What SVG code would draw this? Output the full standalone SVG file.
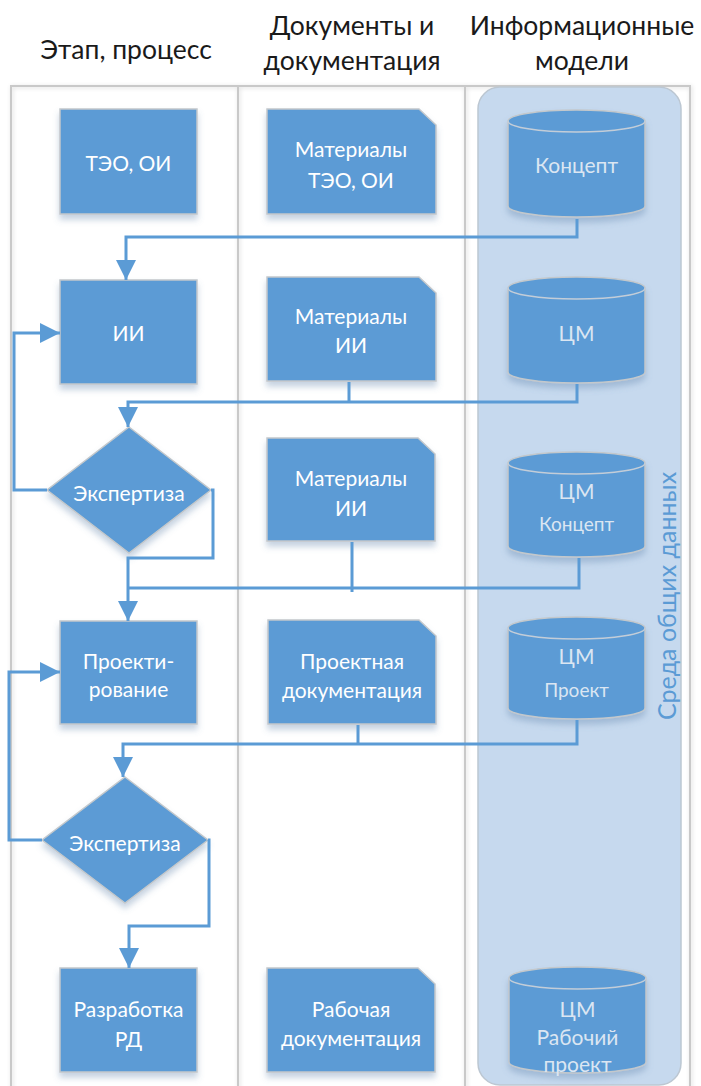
<svg xmlns="http://www.w3.org/2000/svg" width="701" height="1086" viewBox="0 0 701 1086">
  <defs>
    <filter id="shadow" x="-20%" y="-20%" width="140%" height="150%">
      <feGaussianBlur in="SourceAlpha" stdDeviation="3"/>
      <feOffset dx="0" dy="5" result="b"/>
      <feFlood flood-color="#5b7fa8" flood-opacity="0.35"/>
      <feComposite in2="b" operator="in"/>
      <feMerge><feMergeNode/><feMergeNode in="SourceGraphic"/></feMerge>
    </filter>
    <filter id="lineShadow" x="-5%" y="-5%" width="110%" height="110%">
      <feGaussianBlur in="SourceAlpha" stdDeviation="2"/>
      <feOffset dx="1" dy="1" result="b"/>
      <feFlood flood-color="#000" flood-opacity="0.15"/>
      <feComposite in2="b" operator="in"/>
      <feMerge><feMergeNode/><feMergeNode in="SourceGraphic"/></feMerge>
    </filter>
    <marker id="arrow" markerUnits="userSpaceOnUse" markerWidth="22" markerHeight="22" viewBox="0 0 22 22" refX="20" refY="11" orient="auto">
      <path d="M0,1 L20,11 L0,21 Z" fill="#5b9bd5"/>
    </marker>
    <style>
      .frame { fill: none; stroke: #c9c9c9; stroke-width: 2; }
      .node { fill: #5b9bd5; stroke: #c3c8cc; stroke-width: 1.5; filter: url(#shadow); }
      .rim { fill: none; stroke: #c3cdd8; stroke-width: 1.5; }
      .lbl { font-family: Lato, "Liberation Sans", sans-serif; font-size: 21px; fill: #ffffff; text-anchor: middle; dominant-baseline: central; }
      .cyl { fill: #dbe6f2; }
      .small { font-size: 19px; }
      .head { font-family: Lato, "Liberation Sans", sans-serif; font-size: 26.5px; fill: #1a1a1a; text-anchor: middle; }
      .conn { fill: none; stroke: #5b9bd5; stroke-width: 3; stroke-linejoin: miter; }
    </style>
  </defs>

  <rect width="701" height="1086" fill="#ffffff"/>

  <!-- column headings -->
  <g id="headings">
    <text class="head" x="126" y="59">Этап, процесс</text>
    <text class="head" x="352" y="35">Документы и</text>
    <text class="head" x="352" y="70">документация</text>
    <text class="head" x="582" y="35">Информационные</text>
    <text class="head" x="582" y="70">модели</text>
  </g>

  <!-- swimlane frame -->
  <g id="lanes" filter="url(#lineShadow)">
    <path class="frame" d="M11,1090 V86 H690 V1090"/>
    <line class="frame" x1="238" y1="86" x2="238" y2="1090"/>
    <line class="frame" x1="465" y1="86" x2="465" y2="1090"/>
  </g>

  <!-- common data environment -->
  <g id="cde">
    <rect x="478" y="87" width="203" height="998" rx="22" ry="22" fill="#c6d9ee" stroke="#bcc7d2" stroke-width="1.5"/>
    <text x="0" y="0" transform="translate(676,596) rotate(-90)" font-family="Lato, 'Liberation Sans', sans-serif" font-size="25" fill="#5b9bd5" text-anchor="middle">Среда общих данных</text>
  </g>

  <!-- process column -->
  <g id="teo">
    <rect class="node" x="60" y="109" width="137" height="105"/>
    <text class="lbl" x="128.5" y="162">ТЭО, ОИ</text>
  </g>
  <g id="ii">
    <rect class="node" x="60" y="280" width="137" height="104"/>
    <text class="lbl" x="128.5" y="332">ИИ</text>
  </g>
  <g id="expertise1">
    <path class="node" d="M129,427 L211,490 L129,553 L47,490 Z"/>
    <text class="lbl" x="129" y="492">Экспертиза</text>
  </g>
  <g id="design">
    <rect class="node" x="60" y="621" width="137" height="103"/>
    <text class="lbl" x="128.5" y="660">Проекти-</text>
    <text class="lbl" x="128.5" y="688">рование</text>
  </g>
  <g id="expertise2">
    <path class="node" d="M125,777 L208,840 L125,903 L42,840 Z"/>
    <text class="lbl" x="125" y="842">Экспертиза</text>
  </g>
  <g id="rd">
    <rect class="node" x="60" y="968" width="137" height="104"/>
    <text class="lbl" x="128.5" y="1008">Разработка</text>
    <text class="lbl" x="128.5" y="1038">РД</text>
  </g>

  <!-- documents column -->
  <g id="doc-teo">
    <path class="node" d="M267,109 H419 L436,125 V214 H267 Z"/>
    <text class="lbl" x="351" y="148">Материалы</text>
    <text class="lbl" x="351" y="179">ТЭО, ОИ</text>
  </g>
  <g id="doc-ii">
    <path class="node" d="M267,277 H419 L436,293 V381 H267 Z"/>
    <text class="lbl" x="351" y="315">Материалы</text>
    <text class="lbl" x="351" y="344">ИИ</text>
  </g>
  <g id="doc-ii2">
    <path class="node" d="M267,438 H418 L435,454 V541 H267 Z"/>
    <text class="lbl" x="351" y="477">Материалы</text>
    <text class="lbl" x="351" y="507">ИИ</text>
  </g>
  <g id="doc-pd">
    <path class="node" d="M268,620 H419 L436,636 V724 H268 Z"/>
    <text class="lbl" x="352" y="660">Проектная</text>
    <text class="lbl" x="352" y="689">документация</text>
  </g>
  <g id="doc-rd">
    <path class="node" d="M267,968 H418 L435,984 V1072 H267 Z"/>
    <text class="lbl" x="351" y="1008">Рабочая</text>
    <text class="lbl" x="351" y="1037">документация</text>
  </g>

  <!-- model column -->
  <g id="model-concept">
    <path class="node" d="M508,121 A68.5,11 0 0 1 645,121 V206 A68.5,11 0 0 1 508,206 Z"/>
    <path class="rim" d="M508,121 A68.5,11 0 0 0 645,121"/>
    <text class="lbl cyl" x="576.5" y="164">Концепт</text>
  </g>
  <g id="model-dm">
    <path class="node" d="M508,288 A68.5,11 0 0 1 645,288 V372 A68.5,11 0 0 1 508,372 Z"/>
    <path class="rim" d="M508,288 A68.5,11 0 0 0 645,288"/>
    <text class="lbl cyl" x="576.5" y="332">ЦМ</text>
  </g>
  <g id="model-dm-concept">
    <path class="node" d="M508,463 A68.5,11 0 0 1 645,463 V546 A68.5,11 0 0 1 508,546 Z"/>
    <path class="rim" d="M508,463 A68.5,11 0 0 0 645,463"/>
    <text class="lbl cyl" x="576.5" y="490">ЦМ</text>
    <text class="lbl cyl small" x="576.5" y="523">Концепт</text>
  </g>
  <g id="model-dm-project">
    <path class="node" d="M508,628 A68.5,11 0 0 1 645,628 V708 A68.5,11 0 0 1 508,708 Z"/>
    <path class="rim" d="M508,628 A68.5,11 0 0 0 645,628"/>
    <text class="lbl cyl" x="576.5" y="655">ЦМ</text>
    <text class="lbl cyl small" x="576.5" y="689">Проект</text>
  </g>
  <g id="model-dm-working">
    <path class="node" d="M509,978 A68.5,11 0 0 1 646,978 V1062 A68.5,11 0 0 1 509,1062 Z"/>
    <path class="rim" d="M509,978 A68.5,11 0 0 0 646,978"/>
    <text class="lbl cyl" x="577.5" y="1008">ЦМ</text>
    <text class="lbl cyl" x="577.5" y="1036">Рабочий</text>
    <text class="lbl cyl" x="577.5" y="1063">проект</text>
  </g>

  <!-- connectors -->
  <g id="connectors">
    <path class="conn" d="M577,219 V237 H126 V280" marker-end="url(#arrow)"/>
    <path class="conn" d="M577,384 V402 H128 V427" marker-end="url(#arrow)"/>
    <path class="conn" d="M349,382 V402"/>
    <path class="conn" d="M47,490 H14 V333 H60" marker-end="url(#arrow)"/>
    <path class="conn" d="M211,490 H213 V558 H128 V621" marker-end="url(#arrow)"/>
    <path class="conn" d="M579,558 V588 H128"/>
    <path class="conn" d="M352,542 V592"/>
    <path class="conn" d="M577,720 V744 H123 V777" marker-end="url(#arrow)"/>
    <path class="conn" d="M358,725 V744"/>
    <path class="conn" d="M42,840 H9 V672 H60" marker-end="url(#arrow)"/>
    <path class="conn" d="M208,840 H209 V926 H129 V968" marker-end="url(#arrow)"/>
  </g>
</svg>
